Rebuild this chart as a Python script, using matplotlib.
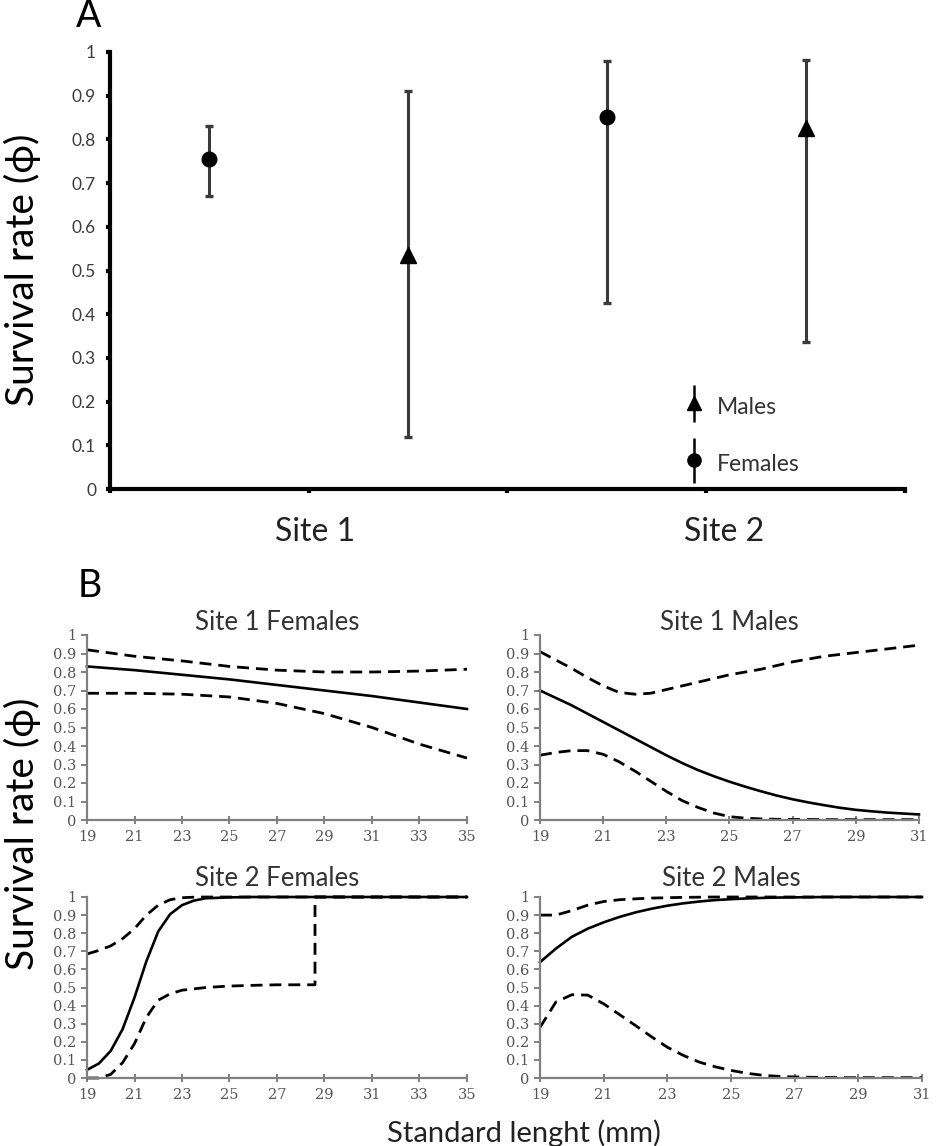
import numpy as np
import matplotlib
matplotlib.use("Agg")
import matplotlib.pyplot as plt

plt.rcParams['font.family'] = ['Lato', 'DejaVu Sans']

# ---- panel A: survival estimates with CI ----
a_pos = [0.5, 1.5, 2.5, 3.5]
a_sex = ["F", "M", "F", "M"]
a_phi = [0.755, 0.535, 0.851, 0.826]
a_low = [0.670, 0.120, 0.426, 0.337]
a_upp = [0.831, 0.911, 0.979, 0.982]
site_labels = ["Site 1", "Site 2"]
site_label_pos = [1.03, 3.09]

# in-plot key
key_x = 2.94
key_males = (0.197, 0.153, 0.238)
key_females = (0.066, 0.014, 0.117)

# ---- panel B: survival vs standard length ----
x_s1f = [19, 21, 23, 25, 27, 29, 31, 33, 35]
s1f_mid = [0.83, 0.81, 0.785, 0.76, 0.73, 0.70, 0.67, 0.635, 0.60]
s1f_up = [0.92, 0.885, 0.86, 0.83, 0.81, 0.80, 0.80, 0.805, 0.815]
s1f_lo = [0.685, 0.685, 0.68, 0.665, 0.63, 0.575, 0.50, 0.41, 0.335]

x_s1m = [19, 19.5, 20, 20.5, 21, 21.5, 22, 22.5, 23, 23.5, 24, 24.5, 25,
         25.5, 26, 26.5, 27, 27.5, 28, 28.5, 29, 29.5, 30, 30.5, 31]
s1m_mid = [0.70, 0.66, 0.62, 0.575, 0.53, 0.485, 0.44, 0.395, 0.35, 0.308,
           0.27, 0.237, 0.207, 0.18, 0.155, 0.132, 0.112, 0.095, 0.08, 0.066,
           0.055, 0.047, 0.04, 0.035, 0.03]
s1m_up = [0.91, 0.865, 0.82, 0.77, 0.725, 0.69, 0.68, 0.685, 0.705, 0.725,
          0.745, 0.765, 0.785, 0.80, 0.815, 0.835, 0.855, 0.87, 0.885, 0.895,
          0.905, 0.915, 0.925, 0.935, 0.945]
s1m_lo = [0.35, 0.365, 0.375, 0.375, 0.355, 0.315, 0.265, 0.21, 0.155, 0.105,
          0.068, 0.038, 0.018, 0.01, 0.006, 0.004, 0.003, 0.003, 0.002, 0.002,
          0.002, 0.002, 0.002, 0.002, 0.002]

x_s2f = [19, 19.5, 20, 20.5, 21, 21.5, 22, 22.5, 23, 23.5, 24, 25,
         26, 27, 28, 29, 30, 31, 32, 33, 34, 35]
s2f_mid = [0.045, 0.08, 0.15, 0.27, 0.445, 0.645, 0.81, 0.905, 0.955, 0.98,
           0.993, 0.998, 1, 1, 1, 1, 1, 1, 1, 1, 1, 1]
s2f_up = [0.685, 0.705, 0.73, 0.77, 0.825, 0.90, 0.955, 0.985, 0.996, 0.999,
          1, 1, 1, 1, 1, 1, 1, 1, 1, 1, 1, 1]
x_s2f_lo = [19, 19.5, 20, 20.5, 21, 21.5, 22, 22.5, 23, 24, 25, 26, 27, 28,
            28.6, 28.6, 29, 31, 33, 35]
s2f_lo = [0.0, 0.0, 0.02, 0.085, 0.19, 0.335, 0.43, 0.465, 0.485, 0.50,
          0.508, 0.512, 0.515, 0.515, 0.515, 1.0, 1.0, 1.0, 1.0, 1.0]

x_s2m = x_s1m
s2m_mid = [0.64, 0.715, 0.78, 0.825, 0.86, 0.89, 0.915, 0.935, 0.952, 0.965,
           0.975, 0.983, 0.988, 0.992, 0.995, 0.997, 0.998, 0.999, 1, 1,
           1, 1, 1, 1, 1]
s2m_up = [0.90, 0.90, 0.925, 0.955, 0.975, 0.985, 0.99, 0.994, 0.996, 0.998,
          0.999, 1, 1, 1, 1, 1, 1, 1, 1, 1, 1, 1, 1, 1, 1]
s2m_lo = [0.28, 0.42, 0.46, 0.458, 0.41, 0.35, 0.29, 0.228, 0.17, 0.125,
          0.088, 0.062, 0.042, 0.026, 0.015, 0.009, 0.006, 0.004, 0.003, 0.002,
          0.002, 0.002, 0.002, 0.002, 0.002]

W, H = 945, 1146
fig = plt.figure(figsize=(W / 100, H / 100), dpi=100)


def box(l, t, r, b):
    return [l / W, 1 - b / H, (r - l) / W, (b - t) / H]


# ---------------- panel A ----------------
ax = fig.add_axes(box(110, 52, 905, 489))
err_col = "#3a3a3a"
for p, s, v, lo, up in zip(a_pos, a_sex, a_phi, a_low, a_upp):
    ax.errorbar([p], [v], yerr=[[v - lo], [up - v]], fmt="none", ecolor=err_col,
                elinewidth=2.2, capsize=3, capthick=2.4, clip_on=False)
    ax.plot([p], [v], marker="o" if s == "F" else "^", color="black",
            markersize=10.5 if s == "F" else 11, linestyle="none", clip_on=False)

for (v, lo, up), mk, lbl in [(key_males, "^", "Males"), (key_females, "o", "Females")]:
    ax.errorbar([key_x], [v], yerr=[[v - lo], [up - v]], fmt="none",
                ecolor="black", elinewidth=1.8, capsize=0)
    ax.plot([key_x], [v], marker=mk, color="black",
            markersize=9.5 if mk == "o" else 10, linestyle="none")
    ax.text(key_x + 0.115, v - 0.01, lbl, fontsize=16.5, color="#333333",
            ha="left", va="center")

ax.set_xlim(0, 4)
ax.set_ylim(0, 1)
for side in ["top", "right"]:
    ax.spines[side].set_visible(False)
for side in ["left", "bottom"]:
    ax.spines[side].set_linewidth(3)
ax.set_yticks(np.arange(0, 1.01, 0.1))
ax.set_yticklabels(["0", "0.1", "0.2", "0.3", "0.4", "0.5", "0.6", "0.7",
                    "0.8", "0.9", "1"])
ax.set_xticks([0, 1, 2, 3, 4])
ax.set_xticklabels([])
ax.set_xticks(site_label_pos, minor=True)
ax.set_xticklabels(site_labels, minor=True)
ax.tick_params(axis="x", which="minor", length=0, labelsize=23, pad=20,
               labelcolor="#222222")
ax.tick_params(axis="both", which="major", length=3, width=3, color="black",
               direction="out")
ax.tick_params(axis="y", labelsize=12.5, labelcolor="#3c3c3c", pad=7)

fig.text(89 / W, 1 - 16 / H, "A", fontsize=27, ha="center", va="center")
fig.text(22 / W, 1 - 270 / H, "Survival rate (\u03d5)", fontsize=28,
         rotation=90, ha="center", va="center")

# ---------------- panel B ----------------
dash = (4.3, 2.5)
gray = "#808080"
panels = [
    ("Site 1 Females", box(87, 635, 467, 820), x_s1f, s1f_mid, x_s1f, s1f_up,
     x_s1f, s1f_lo, 35, 2),
    ("Site 1 Males", box(540, 635, 919, 820), x_s1m, s1m_mid, x_s1m, s1m_up,
     x_s1m, s1m_lo, 31, 2),
    ("Site 2 Females", box(87, 897, 467, 1078), x_s2f, s2f_mid, x_s2f, s2f_up,
     x_s2f_lo, s2f_lo, 35, 8),
    ("Site 2 Males", box(540, 897, 922, 1078), x_s2m, s2m_mid, x_s2m, s2m_up,
     x_s2m, s2m_lo, 31, 8),
]
for title, rect, xm, ym, xu, yu, xl, yl, xmax, tpad in panels:
    b = fig.add_axes(rect)
    b.plot(xm, ym, color="black", linewidth=1.9, clip_on=False)
    b.plot(xu, yu, color="black", linewidth=2.0, dashes=dash, clip_on=False)
    b.plot(xl, yl, color="black", linewidth=2.0, dashes=dash, clip_on=False)
    b.set_xlim(19, xmax)
    b.set_ylim(0, 1)
    b.set_xticks(np.arange(19, xmax + 1, 2))
    b.set_yticks(np.arange(0, 1.01, 0.1))
    b.set_yticklabels(["0", "0.1", "0.2", "0.3", "0.4", "0.5", "0.6", "0.7",
                       "0.8", "0.9", "1"])
    for side in ["top", "right"]:
        b.spines[side].set_visible(False)
    for side in ["left", "bottom"]:
        b.spines[side].set_color(gray)
        b.spines[side].set_linewidth(1.6)
    b.tick_params(axis="both", length=4, width=1.4, color=gray, direction="out",
                  labelsize=10.5, labelcolor="#555555", pad=4)
    b.tick_params(axis="x", direction="inout", length=6)
    for lab in b.get_xticklabels() + b.get_yticklabels():
        lab.set_family("DejaVu Serif")
    b.set_title(title, fontsize=18.5, color="#333333", pad=tpad)

fig.text(90 / W, 1 - 586 / H, "B", fontsize=27, ha="center", va="center")
fig.text(22 / W, 1 - 834 / H, "Survival rate (\u03d5)", fontsize=28,
         rotation=90, ha="center", va="center")
fig.text(524 / W, 1 - 1133 / H, "Standard lenght (mm)", fontsize=21,
         ha="center", va="center", color="#222222")

fig.savefig("out.png", dpi=100)
